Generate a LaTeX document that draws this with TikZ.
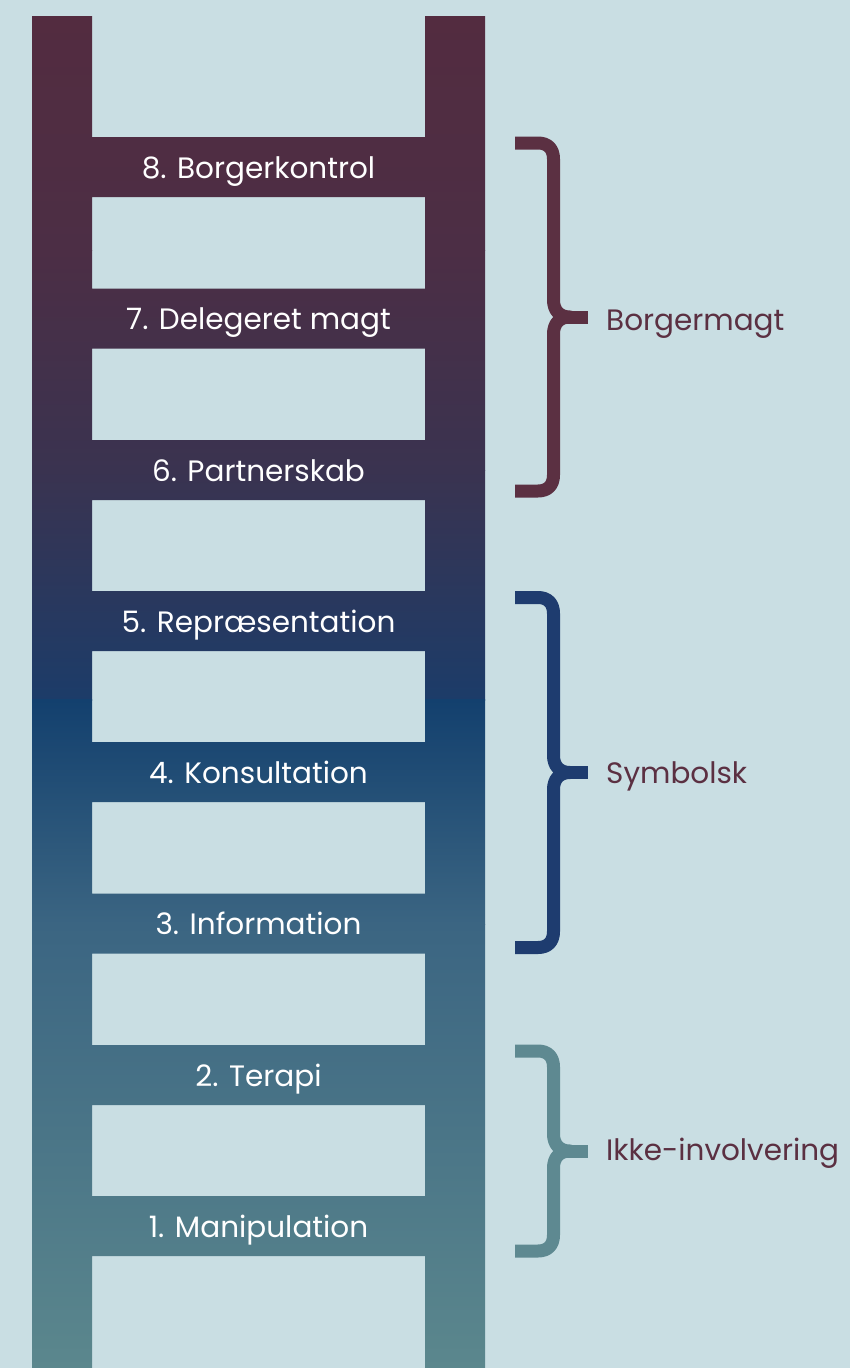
\documentclass[tikz,border=0pt]{standalone}
\usepackage{fontspec}
\setmainfont{Poppins}
\definecolor{bg}{HTML}{C9DEE3}
\definecolor{maroon}{HTML}{532C40}
\definecolor{upA}{HTML}{4C2E45}
\definecolor{upB}{HTML}{3A3350}
\definecolor{seamup}{HTML}{1C3C69}
\definecolor{seamlo}{HTML}{13406E}
\definecolor{loA}{HTML}{3B6582}
\definecolor{teal}{HTML}{5B878D}
\definecolor{labelc}{HTML}{5B3042}
\definecolor{braceA}{HTML}{5B3042}
\definecolor{braceB}{HTML}{1E3C6F}
\definecolor{braceC}{HTML}{5E8991}
\tikzset{
  rungtext/.style={text=white,font=\fontsize{29.5}{34}\selectfont,anchor=base,inner sep=0pt},
  grouptext/.style={text=labelc,font=\fontsize{29.5}{34}\selectfont,anchor=base west,inner sep=0pt},
  bracestroke/.style={line width=13pt,line cap=butt,line join=round}
}
\newcommand{\ladderbrace}[4]{% color, top y, bottom y, mid y
  \draw[bracestroke,#1] (515,#2) -- (538,#2) .. controls (548,#2) and (553.5,#2+6) .. (553.5,#2+16)
    -- (553.5,#4-17) .. controls (553.5,#4-7) and (559,#4) .. (570,#4)
    .. controls (559,#4) and (553.5,#4+7) .. (553.5,#4+17)
    -- (553.5,#3-16) .. controls (553.5,#3-6) and (548,#3) .. (538,#3) -- (515,#3);
  \draw[bracestroke,#1] (566,#4) -- (588,#4);
}
\begin{document}
\begin{tikzpicture}[x=1pt,y=-1pt]
\fill[bg] (0,0) rectangle (850,1368);
\useasboundingbox (0,0) rectangle (850,1368);
\begin{scope}
  \clip (32,16) rectangle (92,1368)
        (425,16) rectangle (485,1368)
        (92,137) rectangle (425,197)
        (92,288.5) rectangle (425,348.5)
        (92,440) rectangle (425,500)
        (92,591) rectangle (425,651)
        (92,742) rectangle (425,802)
        (92,893.5) rectangle (425,953.5)
        (92,1045) rectangle (425,1105)
        (92,1196) rectangle (425,1256);
  \shade[top color=maroon,bottom color=upA] (0,16) rectangle (500,250.5);
  \shade[top color=upA,bottom color=upB] (0,250) rectangle (500,470.5);
  \shade[top color=upB,bottom color=seamup] (0,470) rectangle (500,700);
  \shade[top color=seamlo,bottom color=loA] (0,699.5) rectangle (500,924.5);
  \shade[top color=loA,bottom color=teal] (0,924) rectangle (500,1368);
\end{scope}
\node[rungtext] (r8) at (258.5,178) {8. Borgerkontrol};
\node[rungtext] (r7) at (258.5,329.5) {7. Delegeret magt};
\node[rungtext] (r6) at (258.5,481) {6. Partnerskab};
\node[rungtext] (r5) at (258.5,632) {5. Repræsentation};
\node[rungtext] (r4) at (258.5,783) {4. Konsultation};
\node[rungtext] (r3) at (258.5,934.5) {3. Information};
\node[rungtext] (r2) at (258.5,1086) {2. Terapi};
\node[rungtext] (r1) at (258.5,1237) {1. Manipulation};
\ladderbrace{braceA}{143}{491}{317}
\ladderbrace{braceB}{597.5}{947.5}{772.5}
\ladderbrace{braceC}{1051}{1251}{1151}
\node[grouptext] (g1) at (606,330) {Borgermagt};
\node[grouptext] (g2) at (606,783) {Symbolsk};
\node[grouptext] (g3) at (606,1160) {Ikke-involvering};
\end{tikzpicture}
\end{document}
